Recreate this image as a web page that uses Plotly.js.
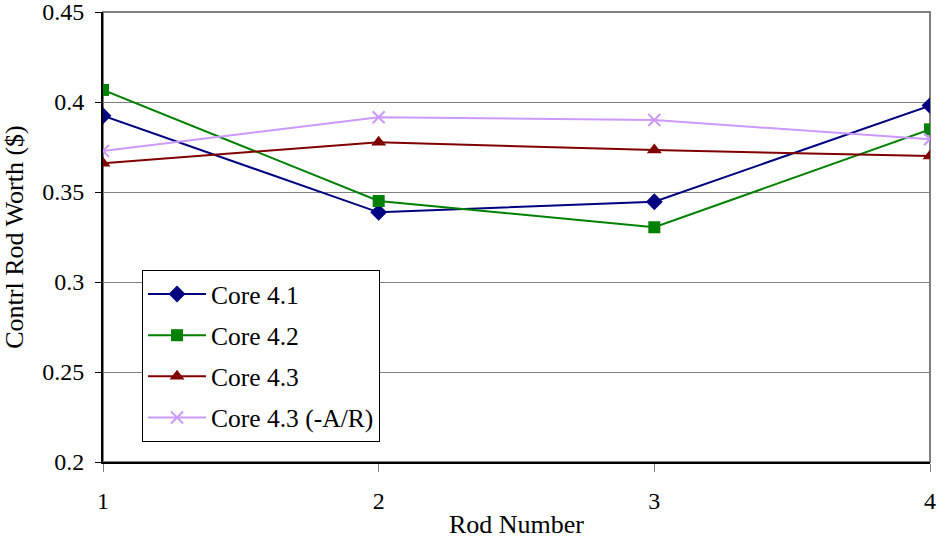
<!DOCTYPE html>
<html>
<head>
<meta charset="utf-8">
<script src="https://cdn.plot.ly/plotly-3.0.1.min.js"></script>
<style>html,body{margin:0;padding:0;background:#fff;}#chart{width:937px;height:541px;}</style>
</head>
<body>
<div id="chart"></div>
<script>
const rods = [1, 2, 3, 4];
const core41 = [0.3924, 0.3387, 0.3446, 0.3980];
const core42 = [0.4067, 0.3450, 0.3304, 0.3848];
const core43 = [0.3660, 0.3776, 0.3733, 0.3700];
const core43AR = [0.3728, 0.3915, 0.3900, 0.3793];
const seriesNames = ["Core 4.1", "Core 4.2", "Core 4.3", "Core 4.3 (-A/R)"];
const tickVals = [0.2, 0.25, 0.3, 0.35, 0.4, 0.45];
const tickText = ["0.2", "0.25", "0.3", "0.35", "0.4", "0.45"];

const font = "Liberation Serif, Times New Roman, serif";
const styles = [
  {color: "#000080", symbol: "diamond", size: 13},
  {color: "#008000", symbol: "square", size: 12},
  {color: "#800000", symbol: "triangle-up", size: 13},
  {color: "#CC99FF", symbol: "x-thin-open", size: 12}
];
const values = [core41, core42, core43, core43AR];
const traces = values.map((v, i) => ({
  x: rods, y: v, name: seriesNames[i], type: "scatter", mode: "lines+markers",
  legendgroup: "g" + i,
  line: {color: styles[i].color, width: 2},
  marker: {color: styles[i].color, symbol: styles[i].symbol, size: styles[i].size,
           line: {color: styles[i].color, width: i === 3 ? 2 : 0}}
}));

const layout = {
  width: 937, height: 541,
  margin: {l: 103, r: 7, t: 12, b: 79},
  paper_bgcolor: "#fff", plot_bgcolor: "#fff",
  font: {family: font, size: 24, color: "#000"},
  showlegend: true,
  legend: {x: 0.0472, y: 0.4267, xanchor: "left", yanchor: "top",
           bordercolor: "#000", borderwidth: 1, bgcolor: "#fff", itemwidth: 58,
           font: {family: font, size: 25.5, color: "#000"}, tracegroupgap: 5},
  xaxis: {
    range: [1, 4], tickvals: rods, ticktext: rods.map(String),
    showgrid: false, zeroline: false, showline: true, linecolor: "#000", linewidth: 2,
    ticks: "outside", ticklen: 8, tickcolor: "#808080", tickwidth: 1,
    ticklabelstandoff: 8, ticklabeloverflow: "allow",
    tickfont: {family: font, size: 24},
    title: {text: "Rod Number", font: {family: font, size: 26}, standoff: 2}
  },
  yaxis: {
    range: [0.2, 0.45], tickvals: tickVals, ticktext: tickText,
    showgrid: true, gridcolor: "#808080", gridwidth: 1,
    zeroline: false, showline: true, linecolor: "#000", linewidth: 2,
    ticks: "outside", ticklen: 6, tickcolor: "#000", tickwidth: 1,
    ticklabelstandoff: 6, ticklabeloverflow: "allow",
    tickfont: {family: font, size: 24},
    title: {text: "Contrl Rod Worth ($)", font: {family: font, size: 26}, standoff: 12}
  },
  shapes: [{type: "rect", xref: "paper", yref: "paper", x0: 0, x1: 1, y0: 0, y1: 1,
            line: {color: "#808080", width: 2}, layer: "below"}]
};

Plotly.newPlot("chart", traces, layout, {displayModeBar: false, staticPlot: true});
</script>
</body>
</html>
